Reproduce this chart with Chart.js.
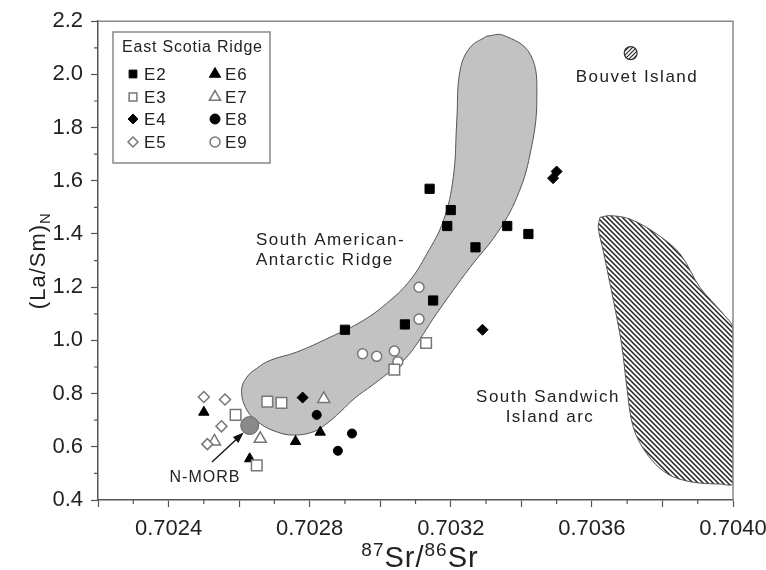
<!DOCTYPE html>
<html>
<head>
<meta charset="utf-8">
<script src="https://cdn.jsdelivr.net/npm/chart.js@4.4.1/dist/chart.umd.min.js"></script>
<style>
  body { margin: 0; background: #fff; }
  #wrap { width: 766px; height: 570px; }
</style>
</head>
<body>
<div id="wrap"><canvas id="srChart" width="766" height="570"></canvas></div>
<script>
// East Scotia Ridge segments, 87Sr/86Sr vs (La/Sm)N
const e2X = [0.70314, 0.70320, 0.70319, 0.70336, 0.70342, 0.70327, 0.70315, 0.70307, 0.70290];
const e2Y = [1.57, 1.49, 1.43, 1.43, 1.40, 1.35, 1.15, 1.06, 1.04];
const e3X = [0.70259, 0.70268, 0.70272, 0.70265, 0.70313, 0.70304];
const e3Y = [0.72, 0.77, 0.765, 0.53, 0.99, 0.89];
const e4X = [0.70278, 0.70329, 0.70349, 0.70350];
const e4Y = [0.785, 1.04, 1.61, 1.635];
const e5X = [0.70250, 0.70256, 0.70255, 0.70251];
const e5Y = [0.787, 0.778, 0.677, 0.61];
const e6X = [0.70250, 0.70263, 0.70276, 0.70283];
const e6Y = [0.73, 0.555, 0.62, 0.655];
const e7X = [0.70266, 0.70284, 0.70253];
const e7Y = [0.63, 0.78, 0.62];
const e8X = [0.70282, 0.70292, 0.70288];
const e8Y = [0.72, 0.65, 0.585];
const e9X = [0.70311, 0.70311, 0.70295, 0.70299, 0.70304, 0.70305];
const e9Y = [1.20, 1.08, 0.95, 0.94, 0.96, 0.92];
const nmorbX = [0.70263];
const nmorbY = [0.68];
const bouvetX = [0.70371];
const bouvetY = [2.08];

// South American-Antarctic Ridge field outline
const saarX = [0.703302, 0.703349, 0.703425, 0.703444, 0.703425, 0.703387, 0.70333, 0.703255, 0.70316,
  0.703084, 0.703039, 0.702977, 0.702928, 0.702886, 0.702846, 0.70281, 0.702754, 0.702707, 0.702659,
  0.702622, 0.702607, 0.702622, 0.70265, 0.702688, 0.702763, 0.702858, 0.702952, 0.703028, 0.703084,
  0.703132, 0.703179, 0.703207, 0.703217, 0.703226, 0.703254, 0.703302];
const saarY = [2.144, 2.147, 2.076, 1.912, 1.701, 1.537, 1.401, 1.275, 1.101,
  0.951, 0.895, 0.831, 0.783, 0.730, 0.685, 0.656, 0.644, 0.656, 0.688,
  0.738, 0.812, 0.862, 0.895, 0.925, 0.956, 1.012, 1.075, 1.150, 1.225,
  1.325, 1.450, 1.612, 1.825, 2.012, 2.100, 2.144];

// South Sandwich Island arc field outline
const ssiX = [0.703623, 0.703651, 0.703708, 0.703784, 0.70385, 0.703906, 0.703972, 0.7040, 0.7040, 0.7040,
  0.7040, 0.703963, 0.703878, 0.703812, 0.703755, 0.703717, 0.703699, 0.703684, 0.703661, 0.703632,
  0.703618, 0.703623];
const ssiY = [1.4625, 1.469, 1.456, 1.40, 1.325, 1.20, 1.10, 1.045, 0.80, 0.60,
  0.4625, 0.46, 0.469, 0.50, 0.575, 0.675, 0.825, 0.9875, 1.15, 1.3375,
  1.425, 1.4625];

const xMin = 0.7022, xMax = 0.7040, yMin = 0.4, yMax = 2.2;

const FONT = "'Liberation Sans', Arial, Helvetica, sans-serif";
const pts = (xs, ys) => xs.map((x, i) => ({ x, y: ys[i] }));

function makeHatch(size, dir, lw) {
  const c = document.createElement("canvas");
  c.width = size; c.height = size;
  const g = c.getContext("2d");
  g.fillStyle = "#fff";
  g.fillRect(0, 0, size, size);
  g.strokeStyle = "#222";
  g.lineWidth = lw;
  g.beginPath();
  if (dir === "down") {
    g.moveTo(0, 0); g.lineTo(size, size);
    g.moveTo(size - 1, -1); g.lineTo(size + 1, 1);
    g.moveTo(-1, size - 1); g.lineTo(1, size + 1);
  } else {
    g.moveTo(0, size); g.lineTo(size, 0);
    g.moveTo(-1, 1); g.lineTo(1, -1);
    g.moveTo(size - 1, size + 1); g.lineTo(size + 1, size - 1);
  }
  g.stroke();
  return g.createPattern(c, "repeat");
}

const markers = [
  { label: "E2", xs: e2X, ys: e2Y, style: "rect", r: 6.5, filled: true },
  { label: "E3", xs: e3X, ys: e3Y, style: "rect", r: 7.5, filled: false },
  { label: "E4", xs: e4X, ys: e4Y, style: "rectRot", r: 5.5, filled: true },
  { label: "E5", xs: e5X, ys: e5Y, style: "rectRot", r: 5.5, filled: false },
  { label: "E6", xs: e6X, ys: e6Y, style: "triangle", r: 6, filled: true },
  { label: "E7", xs: e7X, ys: e7Y, style: "triangle", r: 7, filled: false },
  { label: "E8", xs: e8X, ys: e8Y, style: "circle", r: 4.5, filled: true },
  { label: "E9", xs: e9X, ys: e9Y, style: "circle", r: 5, filled: false }
];

const pointSets = markers.map(m => ({
  label: m.label,
  data: pts(m.xs, m.ys),
  pointStyle: m.style,
  pointRadius: m.r,
  pointHoverRadius: m.r,
  pointBackgroundColor: m.filled ? "#000" : "#fff",
  pointBorderColor: m.filled ? "#000" : "#777",
  pointBorderWidth: m.filled ? 1 : 1.5,
  showLine: false,
  order: 1
}));

// minor ticks, frame, axis titles, legend and labels
const decorPlugin = {
  id: "decor",
  afterDraw(chart) {
    const { ctx, chartArea: a, scales: { x, y } } = chart;
    ctx.save();

    // frame top/right
    ctx.strokeStyle = "#888";
    ctx.lineWidth = 1.5;
    ctx.beginPath();
    ctx.moveTo(a.left, a.top); ctx.lineTo(a.right, a.top); ctx.lineTo(a.right, a.bottom);
    ctx.stroke();

    // minor ticks
    ctx.strokeStyle = "#555";
    ctx.lineWidth = 1.2;
    ctx.beginPath();
    for (let k = 7023; k < 7040; k += 2) {
      const px = x.getPixelForValue(k / 10000);
      ctx.moveTo(px, a.bottom); ctx.lineTo(px, a.bottom + 4);
    }
    for (let k = 5; k < 22; k += 2) {
      const py = y.getPixelForValue(k / 10);
      ctx.moveTo(a.left, py); ctx.lineTo(a.left - 4, py);
    }
    ctx.stroke();

    ctx.fillStyle = "#222";
    ctx.textBaseline = "alphabetic";
    if ("letterSpacing" in ctx) ctx.letterSpacing = "1px";

    // y title (La/Sm)N
    ctx.save();
    ctx.translate(37, (a.top + a.bottom) / 2);
    ctx.rotate(-Math.PI / 2);
    ctx.font = "22px " + FONT;
    const w1 = ctx.measureText("(La/Sm)").width;
    ctx.font = "15px " + FONT;
    const w2 = ctx.measureText("N").width;
    let sx = -(w1 + w2) / 2;
    ctx.font = "22px " + FONT;
    ctx.textAlign = "left";
    ctx.fillText("(La/Sm)", sx, 8);
    ctx.font = "15px " + FONT;
    ctx.fillText("N", sx + w1, 13);
    ctx.restore();

    // x title 87Sr/86Sr
    const parts = [["87", true], ["Sr/", false], ["86", true], ["Sr", false]];
    let total = 0;
    parts.forEach(p => {
      ctx.font = (p[1] ? "19px " : "29px ") + FONT;
      total += ctx.measureText(p[0]).width;
    });
    let tx = 420 - total / 2;
    ctx.textAlign = "left";
    parts.forEach(p => {
      ctx.font = (p[1] ? "19px " : "29px ") + FONT;
      ctx.fillText(p[0], tx, p[1] ? 556 : 567);
      tx += ctx.measureText(p[0]).width;
    });

    // field labels
    if ("letterSpacing" in ctx) ctx.letterSpacing = "1.5px";
    ctx.font = "17px " + FONT;
    ctx.textBaseline = "middle";
    ctx.textAlign = "left";
    ctx.fillText("South American-", 256, 240);
    ctx.fillText("Antarctic Ridge", 256, 260);
    ctx.textAlign = "center";
    ctx.fillText("South Sandwich", 548, 397);
    ctx.fillText("Island arc", 550, 417);
    ctx.fillText("Bouvet Island", 637, 77);
    if ("letterSpacing" in ctx) ctx.letterSpacing = "1px";
    ctx.font = "16px " + FONT;
    ctx.fillText("N-MORB", 205, 478);

    // N-MORB arrow
    const hx = x.getPixelForValue(nmorbX[0]) - 6, hy = y.getPixelForValue(nmorbY[0]) + 7;
    const bx = 212, by = 462;
    const ang = Math.atan2(hy - by, hx - bx);
    ctx.strokeStyle = "#111";
    ctx.lineWidth = 1.3;
    ctx.beginPath();
    ctx.moveTo(bx, by);
    ctx.lineTo(hx - 8 * Math.cos(ang), hy - 8 * Math.sin(ang));
    ctx.stroke();
    ctx.fillStyle = "#111";
    ctx.beginPath();
    ctx.moveTo(hx, hy);
    ctx.lineTo(hx - 11 * Math.cos(ang) + 4 * Math.sin(ang), hy - 11 * Math.sin(ang) - 4 * Math.cos(ang));
    ctx.lineTo(hx - 11 * Math.cos(ang) - 4 * Math.sin(ang), hy - 11 * Math.sin(ang) + 4 * Math.cos(ang));
    ctx.closePath();
    ctx.fill();

    // legend box
    ctx.fillStyle = "#fff";
    ctx.fillRect(113, 32, 157, 131);
    ctx.strokeStyle = "#888";
    ctx.lineWidth = 1.5;
    ctx.strokeRect(113, 32, 157, 131);
    ctx.fillStyle = "#222";
    ctx.textAlign = "left";
    ctx.font = "16px " + FONT;
    if ("letterSpacing" in ctx) ctx.letterSpacing = "0.8px";
    ctx.fillText("East Scotia Ridge", 122, 48);
    const rows = [74, 97, 119, 142];
    const legR = { rect: 5.5, rectRot: 5, triangle: 6.5, circle: 5 };
    ctx.font = "17px " + FONT;
    markers.forEach((m, i) => {
      const col = i < 4 ? 0 : 1;
      const my = rows[i % 4];
      const mx = col ? 215 : 133;
      ctx.fillStyle = m.filled ? "#000" : "#fff";
      ctx.strokeStyle = m.filled ? "#000" : "#777";
      ctx.lineWidth = m.filled ? 1 : 1.5;
      Chart.helpers.drawPoint(ctx, { pointStyle: m.style, radius: legR[m.style], rotation: 0, borderWidth: ctx.lineWidth }, mx, my);
      ctx.fillStyle = "#222";
      ctx.fillText(m.label, col ? 225 : 144, my + 1);
    });
    ctx.restore();
  }
};

const ctx = document.getElementById("srChart").getContext("2d");
new Chart(ctx, {
  type: "scatter",
  data: {
    datasets: [
      ...pointSets,
      {
        label: "N-MORB", data: pts(nmorbX, nmorbY), pointStyle: "circle",
        pointRadius: 9, pointBackgroundColor: "#8a8a8a", pointBorderColor: "#666", pointBorderWidth: 1, order: 1
      },
      {
        label: "Bouvet Island", data: pts(bouvetX, bouvetY), pointStyle: "circle",
        pointRadius: 6.5, pointBackgroundColor: makeHatch(4, "up", 1.1), pointBorderColor: "#333", pointBorderWidth: 1.2, order: 1
      },
      {
        type: "line", label: "South American-Antarctic Ridge", data: pts(saarX, saarY),
        fill: "shape", backgroundColor: "#c2c2c2", borderColor: "#555", borderWidth: 1,
        pointRadius: 0, tension: 0.4, order: 10
      },
      {
        type: "line", label: "South Sandwich Island arc", data: pts(ssiX, ssiY),
        fill: "shape", backgroundColor: makeHatch(5, "down", 1.5), borderColor: "#555", borderWidth: 1,
        pointRadius: 0, tension: 0.35, order: 10
      }
    ]
  },
  options: {
    responsive: false,
    animation: false,
    events: [],
    layout: { padding: { top: 20, right: 33, left: 0, bottom: 0 } },
    plugins: { legend: { display: false }, tooltip: { enabled: false } },
    scales: {
      x: {
        type: "linear", min: xMin, max: xMax,
        ticks: {
          stepSize: 0.0002, autoSkip: false, maxRotation: 0, padding: 9,
          color: "#222", font: { size: 22, family: FONT },
          callback: v => (Math.round(v * 10000) % 4 === 0 ? v.toFixed(4) : "")
        },
        grid: { drawOnChartArea: false, tickLength: 7, tickColor: "#555", tickWidth: 1.2 },
        border: { color: "#555", width: 1.5 },
        afterFit: s => { s.height = 70; s.paddingLeft = 0; s.paddingRight = 0; }
      },
      y: {
        type: "linear", min: yMin, max: yMax,
        ticks: {
          stepSize: 0.2, padding: 8,
          color: "#222", font: { size: 22, family: FONT },
          callback: v => v.toFixed(1)
        },
        grid: { drawOnChartArea: false, tickLength: 7, tickColor: "#555", tickWidth: 1.2 },
        border: { color: "#555", width: 1.5 },
        afterFit: s => { s.width = 98; }
      }
    }
  },
  plugins: [decorPlugin]
});
</script>
</body>
</html>
